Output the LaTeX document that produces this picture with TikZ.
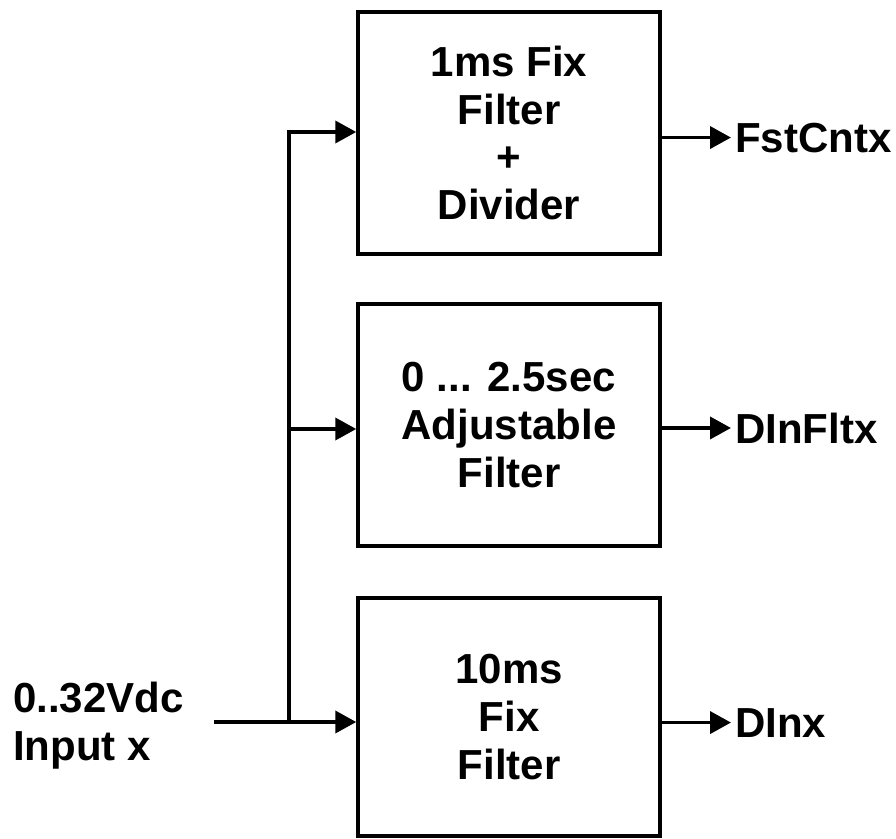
\documentclass[tikz,border=0pt]{standalone}
\usepackage{fontspec}
\setmainfont{Liberation Sans}
\usetikzlibrary{arrows.meta}
\begin{document}
\begin{tikzpicture}[x=1pt,y=-1pt,
  blk/.style={draw, line width=3.5pt, minimum width=302pt, minimum height=242pt, inner sep=0pt, align=center, font=\fontsize{42}{47.7}\selectfont\bfseries},
  lbl/.style={inner sep=0pt, font=\fontsize{42}{47.5}\selectfont\bfseries},
  wire/.style={line width=3.8pt, line join=miter},
  arr/.style={wire, -{Triangle[length=21pt,width=22pt]}}]
\useasboundingbox (0,0) rectangle (896,838);
\node[blk] (b1) at (509,133) {1ms Fix\\Filter\\+\\Divider};
\node[blk] (b2) at (509,425) {0 ... 2.5sec\\Adjustable\\Filter};
\node[blk, minimum height=238pt] (b3) at (509,717) {10ms\\Fix\\Filter};
\node[lbl, anchor=north west, align=left] (in) at (13,682) {0..32Vdc\\Input x};
\node[lbl, anchor=base west] (f1) at (735,152) {FstCntx};
\node[lbl, anchor=base west] (f2) at (735,443) {DInFltx};
\node[lbl, anchor=base west] (f3) at (735,737) {DInx};
\coordinate (s) at (214,722);
\coordinate (j) at (289,722);
\coordinate (t1) at (289,132);
\coordinate (t2) at (289,429);
\draw[arr] (s) -- (s -| b3.west);
\draw[arr] (j) -- (t1) -- (t1 -| b1.west);
\draw[arr] (t2) -- (t2 -| b2.west);
\draw[arr] (b1.east |- f1.west) -- ([xshift=-4pt]f1.west);
\draw[arr] (b2.east |- f2.west) -- ([xshift=-4pt]f2.west);
\draw[arr] (b3.east |- f3.west) -- ([xshift=-4pt]f3.west);
\end{tikzpicture}
\end{document}
